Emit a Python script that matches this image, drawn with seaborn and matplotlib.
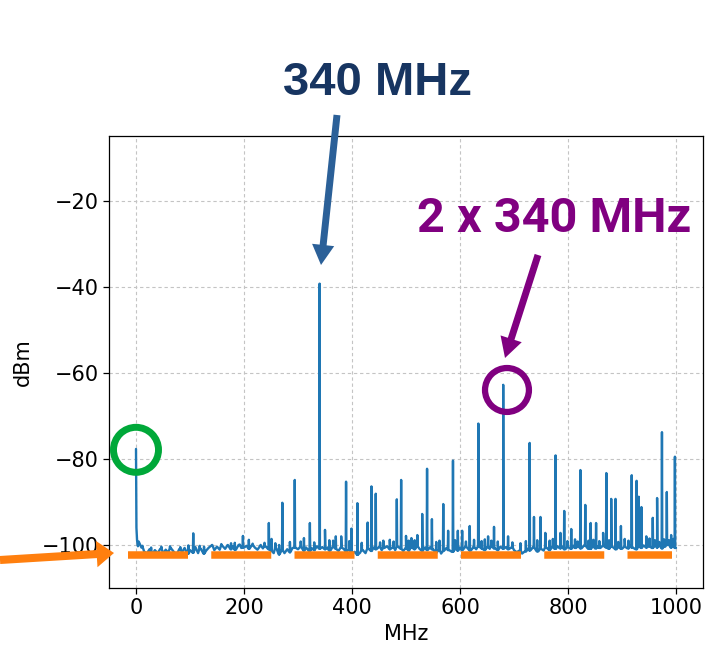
import numpy as np
import pandas as pd
import matplotlib
matplotlib.use("Agg")
import matplotlib.pyplot as plt
import seaborn as sns

# ---------------- data ----------------
# noise floor sampled every 5 MHz (0 .. 1000 MHz)
base_step = 5
base_levels = [
    -77.7, -99.2, -100.6, -101.5, -102.0, -101.0, -102.2, -101.2, -101.9, -100.9,
    -102.0, -101.1, -101.8, -100.8, -101.6, -102.3, -101.0, -101.7, -100.7, -102.0,
    -101.2, -101.8, -100.5, -101.9, -100.9, -102.0, -101.3, -100.6, -100.1, -101.2,
    -100.4, -101.1, -100.2, -100.9, -100.1, -101.0, -100.3, -101.1, -100.0, -100.7,
    -100.6, -100.2, -100.9, -100.0, -100.6, -101.1, -100.2, -100.8, -100.3, -101.0,
    -101.4, -101.9, -100.8, -102.2, -101.2, -101.9, -101.0, -101.7, -100.7, -100.6,
    -101.0, -100.4, -101.3, -100.6, -101.4, -100.7, -101.2, -100.3, -100.9, -100.5,
    -101.0, -100.6, -101.3, -100.4, -100.9, -101.4, -100.5, -101.0, -101.5, -101.1,
    -102.0, -101.6, -102.3, -101.8, -101.2, -101.9, -100.8, -101.4, -100.6, -101.0,
    -100.5, -101.2, -100.7, -100.3, -101.0, -100.6, -101.2, -100.4, -100.9, -101.4,
    -100.7, -101.3, -100.5, -101.0, -100.3, -100.9, -101.4, -100.6, -101.2, -100.5,
    -101.0, -101.8, -101.2, -102.0, -101.4, -100.7, -101.2, -101.6, -100.9, -101.3,
    -100.6, -101.2, -100.4, -100.9, -101.3, -100.5, -101.0, -100.3, -100.8, -101.2,
    -100.5, -100.9, -100.3, -100.8, -101.2, -100.4, -100.9, -100.5, -101.0, -100.6,
    -101.2, -101.7, -101.3, -102.0, -101.5, -100.9, -101.3, -100.6, -101.1, -101.5,
    -100.9, -101.3, -100.6, -101.2, -100.5, -100.9, -100.3, -100.8, -100.4, -101.0,
    -100.5, -100.9, -100.2, -100.7, -100.3, -100.8, -100.1, -100.6, -100.9, -100.4,
    -100.8, -100.3, -100.7, -100.2, -100.6, -100.9, -100.3, -100.7, -101.0, -100.5,
    -100.9, -100.4, -100.8, -100.2, -100.6, -101.0, -100.3, -100.7, -100.1, -100.6,
    -100.3, -100.7, -100.1, -100.6, -100.2, -100.8, -100.4, -100.0, -100.6, -100.3,
    -100.7,
]

# DC decay right after 0 MHz
decay_freqs = [0.8, 2.0, 3.5]
decay_levels = [-96.0, -99.0, -100.3]

# narrow spurs (MHz, dBm)
spur_freqs = [106, 141, 170, 183, 198, 209, 231, 246, 251, 271, 294, 311, 322,
              340, 350, 370, 380, 389, 399, 410, 429, 436, 444, 483, 491, 500,
              510, 521, 530, 539, 548, 569, 578, 587, 596, 604, 618, 634, 652,
              663, 680, 689, 729, 737, 749, 758, 777, 786, 793, 806, 823, 832,
              842, 852, 865, 871, 880, 888, 898, 918, 927, 931, 936, 945, 957,
              965, 974, 983, 991, 998]
spur_levels = [-97.3, -100.0, -100.0, -99.5, -97.9, -98.8, -100.0, -94.9, -98.6,
               -90.2, -84.9, -98.4, -94.9, -39.3, -96.5, -98.0, -98.0, -85.3,
               -96.2, -90.3, -94.8, -86.4, -88.1, -89.4, -84.9, -97.9, -98.4,
               -97.7, -92.8, -82.3, -94.0, -90.5, -96.7, -80.4, -96.7, -96.7,
               -95.6, -71.8, -98.0, -95.8, -62.8, -98.0, -76.3, -93.5, -93.5,
               -97.2, -79.2, -97.2, -92.1, -96.3, -82.6, -90.7, -94.9, -94.9,
               -97.2, -83.3, -89.3, -89.3, -95.6, -83.8, -85.1, -88.8, -91.2,
               -98.0, -93.7, -89.1, -73.8, -87.7, -97.7, -79.5]

# small noise bumps on the floor (MHz, dBm)
bump_freqs = [12, 28, 47, 63, 82, 97, 118, 126, 158, 176, 192, 216, 238, 258,
              265, 285, 305, 330, 358, 365, 395, 418, 452, 458, 470, 477, 505,
              516, 556, 562, 591, 611, 626, 640, 646, 658, 670, 697, 712, 722,
              743, 766, 772, 799, 813, 818, 838, 847, 858, 876, 893, 905, 912,
              951, 961, 969, 978, 987, 995]
bump_levels = [-100.2, -100.6, -100.4, -100.3, -100.5, -100.1, -100.2, -100.4,
               -99.8, -99.6, -99.9, -99.7, -99.5, -99.6, -100.0, -99.3, -99.2,
               -99.4, -98.9, -99.0, -99.1, -99.5, -99.4, -99.0, -98.8, -99.2,
               -99.0, -98.9, -99.3, -99.0, -98.9, -99.2, -98.8, -99.1, -98.7,
               -99.0, -99.2, -99.4, -99.6, -99.1, -98.9, -99.0, -98.6, -99.1,
               -98.7, -99.2, -99.0, -98.8, -99.1, -98.9, -99.3, -98.6, -99.0,
               -98.5, -98.9, -99.3, -98.7, -98.9, -98.6]

xticks = [0, 200, 400, 600, 800, 1000]
yticks = [-100, -80, -60, -40, -20]
floor_level = -102.4           # orange dashed reference line
floor_span = (-15, 993)

# ---------------- build the trace ----------------
base_freqs = [i * base_step for i in range(len(base_levels))]
fr, lv = list(base_freqs), list(base_levels)
fr += decay_freqs
lv += decay_levels
for f, l in zip(spur_freqs + bump_freqs, spur_levels + bump_levels):
    b = base_levels[int(round(f / base_step))]
    fr += [f - 0.6, f, f + 0.6]
    lv += [b, l, b]
df = pd.DataFrame({"MHz": fr, "dBm": lv}).sort_values("MHz", kind="stable")

# ---------------- plot ----------------
sns.set_style("ticks", {"axes.grid": True, "grid.linestyle": "--",
                        "grid.color": "#c8c8c8", "axes.edgecolor": "black",
                        "xtick.color": "black", "ytick.color": "black",
                        "text.color": "black", "axes.labelcolor": "black"})
plt.rcParams["font.family"] = ["DejaVu Sans"]

W, H = 707, 650
fig = plt.figure(figsize=(W / 100, H / 100), dpi=100)
ax = fig.add_axes([109 / W, 62 / H, 594 / W, 452 / H])

sns.lineplot(data=df, x="MHz", y="dBm", estimator=None, sort=False,
             color="#1f77b4", lw=1.7, ax=ax, zorder=3)

ax.plot(list(floor_span), [floor_level, floor_level], color="#ff7f0e", lw=5.4,
        linestyle=(0, (8.0, 3.1)), dash_capstyle="butt", zorder=4)

ax.set_xlim(-50, 1050)
ax.set_ylim(-110, -5)
ax.set_xticks(xticks)
ax.set_yticks(yticks)
ax.grid(True, linestyle=(0, (3, 2.5)), color="#c4c4c4", lw=0.8)
ax.tick_params(labelsize=15, length=4, width=0.9, colors="black")
ax.set_xlabel("MHz", fontsize=15)
ax.set_ylabel("dBm", fontsize=15, labelpad=6)
for s in ax.spines.values():
    s.set_color("black")
    s.set_linewidth(0.9)

# circles
ax.scatter([0], [-77.9], s=1050, facecolors="none", edgecolors="#00a839",
           linewidths=5.0, zorder=5)
ax.scatter([687], [-64.0], s=1000, facecolors="none", edgecolors="#800080",
           linewidths=4.5, zorder=5)

# arrows (figure pixel coordinates, origin bottom-left)
def arrow(tail, tip, color, tw, hw, hl):
    ax.annotate("", xy=(tip[0], H - tip[1]), xytext=(tail[0], H - tail[1]),
                xycoords="figure pixels", textcoords="figure pixels",
                arrowprops=dict(arrowstyle=f"simple,tail_width={tw},head_width={hw},head_length={hl}",
                                color=color, lw=0, shrinkA=0, shrinkB=0,
                                mutation_scale=10),
                annotation_clip=False, zorder=6)

arrow((337, 115), (321, 265), "#2b6098", 0.5, 1.6, 1.45)
arrow((538, 255), (505, 358), "#800080", 0.5, 1.6, 1.45)
arrow((0, 560), (114, 553), "#ff7f0e", 0.58, 1.9, 1.25)

# texts
fig.text(377.5 / W, 1 - 95 / H, "340 MHz", ha="center", va="baseline",
         fontsize=34, fontweight="bold", color="#173561",
         family=["Liberation Sans", "DejaVu Sans"])
fig.text(554 / W, 1 - 232 / H, "2 x 340 MHz", ha="center", va="baseline",
         fontsize=35, fontweight="bold", color="#800080",
         family=["Roboto", "DejaVu Sans"])

fig.savefig("out.png", dpi=100)
